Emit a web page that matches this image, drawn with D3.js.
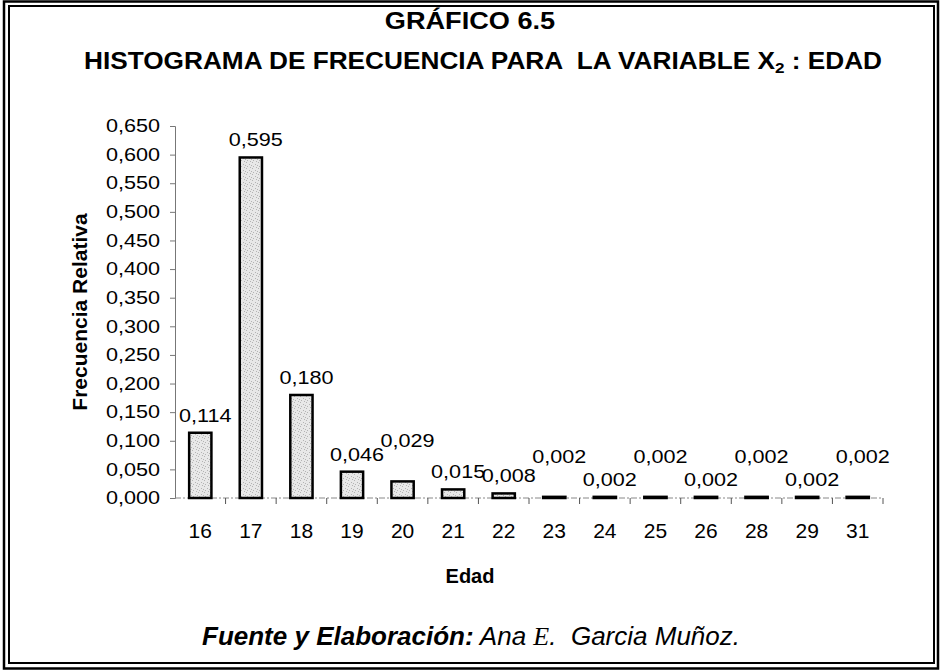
<!DOCTYPE html>
<html>
<head>
<meta charset="utf-8">
<script src="https://cdn.jsdelivr.net/npm/d3@7/dist/d3.min.js"></script>
<style>
  body { margin: 0; background: #fff; }
  svg { display: block; }
  text { font-family: Arial, "Liberation Sans", sans-serif; fill: #000; white-space: pre; }
</style>
</head>
<body>
<div id="chart"></div>
<script>
// data
var edades = ["16", "17", "18", "19", "20", "21", "22", "23", "24", "25", "26", "28", "29", "31"];
var frecuencias = [0.114, 0.595, 0.180, 0.046, 0.029, 0.015, 0.008, 0.002, 0.002, 0.002, 0.002, 0.002, 0.002, 0.002];
var yTicks = [0, 0.05, 0.10, 0.15, 0.20, 0.25, 0.30, 0.35, 0.40, 0.45, 0.50, 0.55, 0.60, 0.65];
// labels Excel pushed up a row to avoid overlaps
var labelsArriba = ["20", "23", "25", "28", "31"];

var W = 941, H = 670;
var svg = d3.select("#chart").append("svg")
    .attr("width", W)
    .attr("height", H);

// stippled gray fill of the bars
var pat = svg.append("defs").append("pattern")
    .attr("id", "punteado")
    .attr("width", 6).attr("height", 6)
    .attr("patternUnits", "userSpaceOnUse");
pat.append("rect").attr("width", 6).attr("height", 6).attr("fill", "#e8e8e8");
[[0, 0], [3, 2], [1, 4], [5, 3], [4, 5]].forEach(function(p) {
    pat.append("rect").attr("x", p[0]).attr("y", p[1])
        .attr("width", 1).attr("height", 1).attr("fill", "#b4b4b4");
});

// double frame
svg.append("rect").attr("x", 4).attr("y", 1.5).attr("width", 934).attr("height", 667)
    .attr("fill", "none").attr("stroke", "#000").attr("stroke-width", 2.5);
svg.append("rect").attr("x", 9).attr("y", 6).attr("width", 925).attr("height", 657)
    .attr("fill", "none").attr("stroke", "#000").attr("stroke-width", 2);

// stretch text horizontally (scan is wider than the font)
function ensanchar(sel, k) {
    sel.each(function() {
        var len = this.getComputedTextLength();
        d3.select(this).attr("textLength", len * k).attr("lengthAdjust", "spacingAndGlyphs");
    });
}

// titles
var t1 = svg.append("text")
    .attr("x", 470).attr("y", 29)
    .attr("text-anchor", "middle")
    .style("font-size", "23px").style("font-weight", "bold")
    .text("GRÁFICO 6.5");
ensanchar(t1, 1.18);

var t2 = svg.append("text")
    .attr("x", 483).attr("y", 69)
    .attr("text-anchor", "middle")
    .style("font-size", "23px").style("font-weight", "bold");
t2.append("tspan").text("HISTOGRAMA DE FRECUENCIA PARA  LA VARIABLE X");
t2.append("tspan").attr("dy", 4).style("font-size", "15px").text("2");
t2.append("tspan").attr("dy", -4).text(" : EDAD");
ensanchar(t2, 1.14);

// scales
var x = d3.scaleBand()
    .domain(edades)
    .range([175, 883])
    .paddingInner(0.56)
    .paddingOuter(0.28);

var y = d3.scaleLinear()
    .domain([0, 0.65])
    .range([498, 126]);

var coma = function(v) { return d3.format(".3f")(v).replace(".", ","); };

// y axis
var yAxis = svg.append("g")
    .attr("transform", "translate(175,0)")
    .call(d3.axisLeft(y).tickValues(yTicks).tickSize(5).tickPadding(10).tickFormat(coma));
yAxis.select(".domain").attr("stroke", "#777").attr("stroke-width", 1);
yAxis.selectAll(".tick line").attr("stroke", "#777");
yAxis.selectAll(".tick text")
    .style("font-size", "18px")
    .style("font-family", "Arial, 'Liberation Sans', sans-serif");
ensanchar(yAxis.selectAll(".tick text"), 1.2);

// x axis: ticks between categories
var bordes = edades.map(function(e) { return x(e) - x.step() * x.paddingOuter(); });
bordes.push(883);
var xAxisG = svg.append("g");
xAxisG.append("line")
    .attr("x1", 175).attr("x2", 883)
    .attr("y1", y(0)).attr("y2", y(0))
    .attr("stroke", "#888").attr("stroke-width", 1)
    .attr("stroke-dasharray", "6,2,2,2");
xAxisG.selectAll("line.borde")
    .data(bordes.slice(1))
    .enter().append("line")
    .attr("class", "borde")
    .attr("x1", function(d) { return d; }).attr("x2", function(d) { return d; })
    .attr("y1", y(0)).attr("y2", y(0) + 6)
    .attr("stroke", "#555").attr("stroke-width", 1);
xAxisG.selectAll("text.cat")
    .data(edades)
    .enter().append("text")
    .attr("class", "cat")
    .attr("x", function(d) { return x(d) + x.bandwidth() / 2; })
    .attr("y", 538)
    .attr("text-anchor", "middle")
    .style("font-size", "21px")
    .text(function(d) { return d; });

// bars
svg.append("g").selectAll("rect")
    .data(frecuencias)
    .enter().append("rect")
    .attr("x", function(d, i) { return x(edades[i]); })
    .attr("y", function(d) { return y(d); })
    .attr("width", x.bandwidth())
    .attr("height", function(d) { return y(0) - y(d); })
    .attr("fill", "url(#punteado)")
    .attr("stroke", "#000")
    .attr("stroke-width", 2.5);

// value labels
var etiquetas = svg.append("g").selectAll("text")
    .data(frecuencias)
    .enter().append("text")
    .attr("x", function(d, i) { return x(edades[i]) + x.bandwidth() / 2 + 5; })
    .attr("y", function(d, i) {
        var base = y(d) - 11;
        return labelsArriba.indexOf(edades[i]) >= 0 ? base - 23 : base;
    })
    .attr("text-anchor", "middle")
    .style("font-size", "18px")
    .text(function(d) { return coma(d); });
ensanchar(etiquetas, 1.2);

// axis titles
svg.append("text")
    .attr("transform", "translate(87,312) rotate(-90)")
    .attr("text-anchor", "middle")
    .style("font-size", "21px").style("font-weight", "bold")
    .text("Frecuencia Relativa");

svg.append("text")
    .attr("x", 470).attr("y", 583)
    .attr("text-anchor", "middle")
    .style("font-size", "20px").style("font-weight", "bold")
    .text("Edad");

// source line
var fuente = svg.append("text")
    .attr("x", 471).attr("y", 645)
    .attr("text-anchor", "middle")
    .style("font-size", "26px").style("font-style", "italic");
fuente.append("tspan").style("font-weight", "bold").text("Fuente y Elaboración:");
fuente.append("tspan").text(" Ana ");
fuente.append("tspan").style("font-family", "'Liberation Serif', 'DejaVu Serif', serif").text("E");
fuente.append("tspan").text(".  Garcia Muñoz.");
</script>
</body>
</html>
